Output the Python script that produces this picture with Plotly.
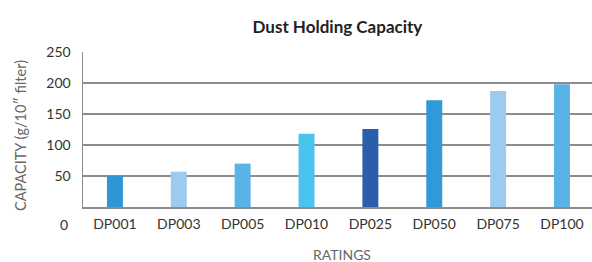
import plotly.graph_objects as go

categories = ["DP001", "DP003", "DP005", "DP010", "DP025", "DP050", "DP075", "DP100"]
capacity = [50, 57, 70, 118, 126, 172, 187, 198]
bar_colors = ["#2f96d4", "#9dcbee", "#5ab3e6", "#4bc3ef", "#2a5ea8", "#2f9ad7", "#9dcbee", "#5ab3e6"]
y_ticks = [50, 100, 150, 200, 250]

FONT = "Lato"
GRID = "#8c8c8c"
W, H = 592, 262
ML, MR, MT, MB = 83, 0, 52, 55

fig = go.Figure()
fig.add_trace(go.Bar(
    x=categories, y=capacity, width=0.25,
    marker=dict(color=bar_colors, line=dict(width=0)),
    cliponaxis=False, hoverinfo="skip",
))

fig.update_layout(
    width=W, height=H,
    margin=dict(l=ML, r=MR, t=MT, b=MB, autoexpand=False),
    paper_bgcolor="white", plot_bgcolor="white",
    showlegend=False,
    font=dict(family=FONT, size=14, color="#333333"),
    title=dict(text="<b>Dust Holding Capacity</b>", x=0.57, xanchor="center",
               y=0.895, yanchor="middle", automargin=False,
               font=dict(family=FONT, size=17, color="#222222")),
    bargap=0.75,
)
fig.update_xaxes(
    type="category", range=[-0.5, 7.47], automargin=False,
    showline=True, linecolor=GRID, linewidth=1.5,
    showgrid=False, ticks="outside", ticklen=4, tickcolor="rgba(0,0,0,0)",
    tickfont=dict(family=FONT, size=14, color="#333333"),
)
fig.update_yaxes(
    range=[0, 250], tickvals=y_ticks, ticktext=[str(v) for v in y_ticks],
    automargin=False,
    showline=True, linecolor=GRID, linewidth=1.5,
    showgrid=True, gridcolor=GRID, gridwidth=1.5,
    zeroline=False,
    ticks="outside", ticklen=8, tickcolor="rgba(0,0,0,0)",
    tickfont=dict(family=FONT, size=14, color="#333333"),
)
# zero label sits on the category-label line in the original
fig.add_annotation(
    text="0", xref="paper", yref="paper", x=0, y=0,
    xanchor="right", yanchor="middle", xshift=-13, yshift=-17,
    showarrow=False, font=dict(family=FONT, size=14, color="#333333"),
)
# axis titles
pw, ph = W - ML - MR, H - MT - MB
fig.add_annotation(
    text="CAPACITY (g/10″ filter)", xref="paper", yref="paper",
    x=(20 - ML) / pw, y=(H - MB - 136) / ph, textangle=-90,
    xanchor="center", yanchor="middle", showarrow=False,
    font=dict(family=FONT, size=14.5, color="#666666"),
)
fig.add_annotation(
    text="RATINGS", xref="paper", yref="paper",
    x=(342 - ML) / pw, y=(H - MB - 254) / ph,
    xanchor="center", yanchor="middle", showarrow=False,
    font=dict(family=FONT, size=14, color="#666666"),
)

fig.write_html("out.html", config={"displayModeBar": False, "staticPlot": True},
               post_script="document.body.style.margin='0';document.body.style.overflow='hidden';")
